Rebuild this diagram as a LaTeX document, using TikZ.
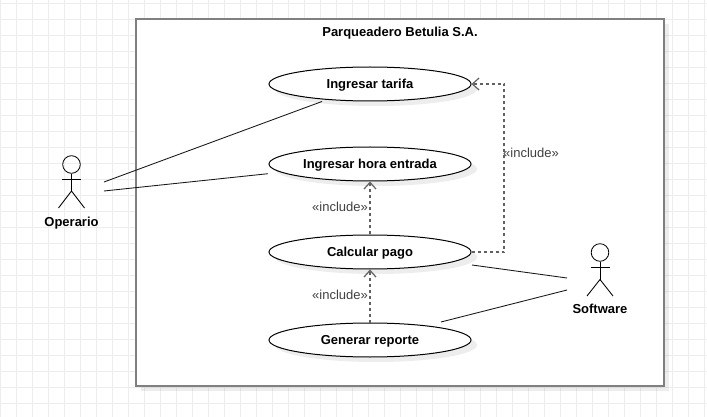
\documentclass[tikz,border=0pt]{standalone}
\usepackage{fontspec}
\setmainfont{Liberation Sans}
\usetikzlibrary{arrows.meta,shapes.geometric}
\tikzset{
  usecase/.style={draw=black,fill=white,shape=ellipse,line width=0.75pt,minimum width=151.5pt,minimum height=25.5pt,inner sep=0pt,font=\bfseries\fontsize{9.75}{11}\selectfont,text height=7pt,text depth=0pt},
  casename/.style={font=\bfseries\fontsize{9.75}{11}\selectfont,inner sep=0pt,text height=7pt,text depth=0pt},
  incl/.style={font=\fontsize{9.75}{11}\selectfont,text=black!75,inner sep=0pt,text height=7pt,text depth=0pt},
  dep/.style={draw=black!62,line width=1.1pt,dash pattern=on 2.25pt off 2.25pt,-{Straight Barb[length=5pt,width=9pt,line width=0.9pt]}},
  assoc/.style={draw=black!90,line width=0.65pt},
  stick/.style={draw=black,line width=0.65pt},
  gridline/.style={draw=black!7,line width=0.75pt},
  shadow/.style={fill=black,fill opacity=0.07,draw=none},
}
\begin{document}
\begin{tikzpicture}[x=0.75pt,y=-0.75pt]
\useasboundingbox (0,0) rectangle (707,417);
\fill[white] (0,0) rectangle (707,417);
% grid
\foreach \gx in {0,...,44} \draw[gridline] ({\gx*16+0.5},0) -- ({\gx*16+0.5},417);
\foreach \gy in {0,...,25} \draw[gridline] (0,{\gy*16+3.5}) -- (707,{\gy*16+3.5});
% system boundary
\fill[shadow] (141,24) rectangle (669,391);
\node[draw=black!50,fill=white,line width=1.5pt,outer sep=0pt,minimum width=396pt,minimum height=275.25pt,inner sep=0pt,anchor=north west] (system) at (136,19) {};
\node[casename] (title) at (400,31.5) {Parqueadero Betulia S.A.};
% use case shadows
\foreach \cy in {84,164,252,340} \fill[shadow] (376,\cy+5) ellipse [x radius=101,y radius=17];
% use cases
\node[usecase] (tarifa) at (370,84) {Ingresar tarifa};
\node[usecase] (hora) at (370,164) {Ingresar hora entrada};
\node[usecase] (pago) at (370,252) {Calcular pago};
\node[usecase] (reporte) at (370,340) {Generar reporte};
% Operario
\coordinate (opA) at (104,182);
\coordinate (opB) at (104,191);
\node[draw=black,line width=0.65pt,circle,minimum size=13.2pt,inner sep=0pt] (ophead) at (71.5,164.5) {};
\coordinate (ophip) at (71.5,191);
\draw[stick] (ophead.south) -- (ophip);
\draw[stick] (62,179.5) -- (81,179.5);
\draw[stick] (58.5,208) -- (ophip) -- (84.5,208);
\node[casename] (operario) at (71.5,221.5) {Operario};
% Software
\coordinate (swA) at (567,278);
\coordinate (swB) at (567,290);
\node[draw=black,line width=0.65pt,circle,minimum size=13.2pt,inner sep=0pt] (swhead) at (600,252.5) {};
\coordinate (swhip) at (600,279.5);
\draw[stick] (swhead.south) -- (swhip);
\draw[stick] (590.5,267.7) -- (609.5,267.7);
\draw[stick] (587,296) -- (swhip) -- (613,296);
\node[casename] (software) at (600,309) {Software};
% associations
\coordinate (tarifaEnd) at (322,101.5);
\coordinate (horaEnd) at (268,173.7);
\coordinate (pagoEnd) at (472,265);
\coordinate (reporteEnd) at (441,322);
\draw[assoc] (opA) -- (tarifaEnd);
\draw[assoc] (opB) -- (horaEnd);
\draw[assoc] (pagoEnd) -- (swA);
\draw[assoc] (reporteEnd) -- (swB);
% includes
\coordinate (bend) at (504,252);
\coordinate (bendTop) at (504,84);
\draw[dep] (pago.east) -- (bend) -- (bendTop) -- (tarifa.east);
\draw[dep] (pago.north) -- (hora.south);
\draw[dep] (reporte.north) -- (pago.south);
\node[incl] (inclA) at (531,152.5) {«include»};
\node[incl] (inclB) at (340,207) {«include»};
\node[incl] (inclC) at (340,294.5) {«include»};
\end{tikzpicture}
\end{document}
